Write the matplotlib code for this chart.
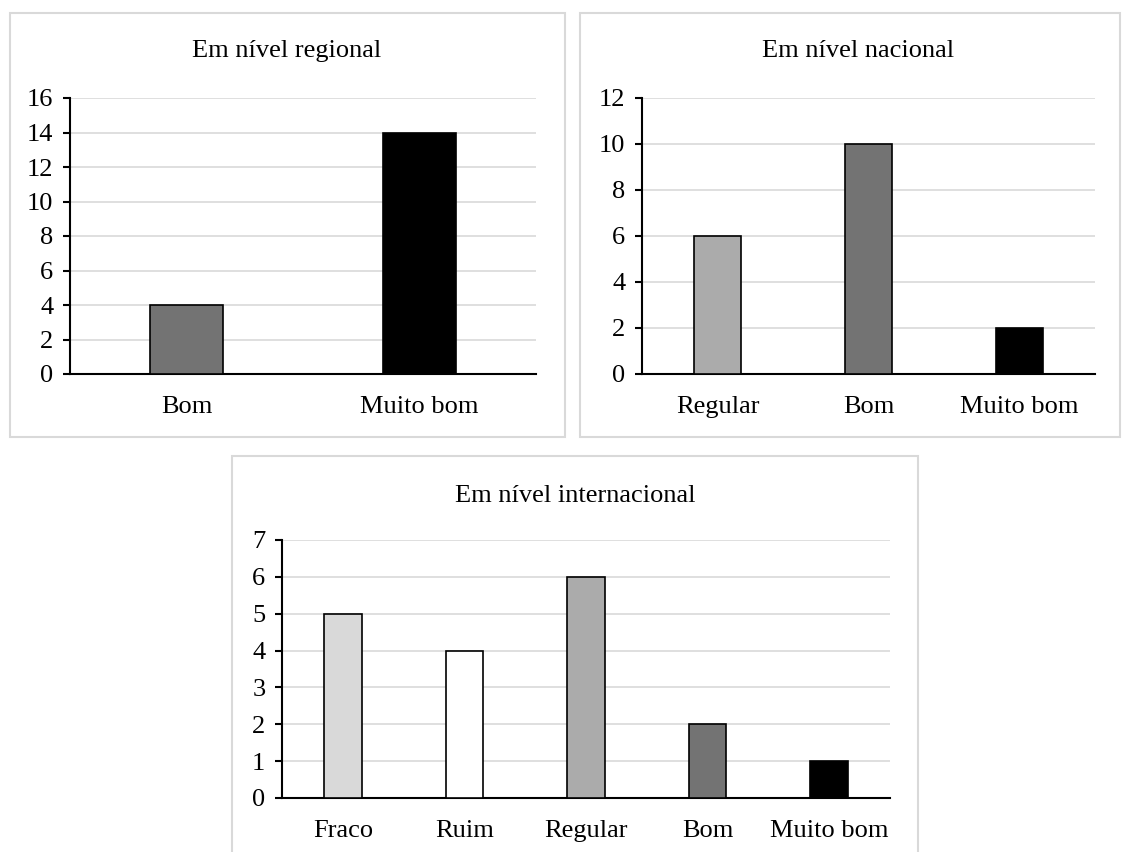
import matplotlib
matplotlib.use("Agg")
import matplotlib.pyplot as plt
from matplotlib.patches import Rectangle

plt.rcParams['font.family'] = ['Liberation Serif', 'DejaVu Serif']

# Data
reg_cats = ["Bom", "Muito bom"]
reg_vals = [4, 14]
nac_cats = ["Regular", "Bom", "Muito bom"]
nac_vals = [6, 10, 2]
int_cats = ["Fraco", "Ruim", "Regular", "Bom", "Muito bom"]
int_vals = [5, 4, 6, 2, 1]

color_map = {"Fraco": "#d9d9d9", "Ruim": "#ffffff", "Regular": "#ababab",
             "Bom": "#737373", "Muito bom": "#000000"}

W, H = 1131, 852
FS = 19
fig = plt.figure(figsize=(W / 100, H / 100), dpi=100)

def px_axes(l, t, r, b):
    return fig.add_axes([l / W, 1 - b / H, (r - l) / W, (b - t) / H])

def panel(l, t, r, b):
    fig.patches.append(Rectangle((l / W, 1 - b / H), (r - l) / W, (b - t) / H,
                                 transform=fig.transFigure, fill=False,
                                 edgecolor="#d9d9d9", linewidth=1.5))

def draw(ax, cats, vals, ymax, step, title, title_xy):
    x = list(range(len(cats)))
    ax.bar(x, vals, width=0.31, color=[color_map[c] for c in cats],
           edgecolor="black", linewidth=1.2, zorder=3)
    ax.set_xlim(-0.5, len(cats) - 0.5)
    ax.set_ylim(0, ymax)
    ax.set_yticks(list(range(0, ymax + 1, step)))
    ax.set_xticks(x)
    ax.set_xticklabels(cats)
    ax.yaxis.grid(True, color="#d9d9d9", linewidth=1.2, zorder=0)
    ax.set_axisbelow(True)
    for s in ["top", "right"]:
        ax.spines[s].set_visible(False)
    ax.spines["left"].set_linewidth(1.5)
    ax.spines["bottom"].set_linewidth(1.5)
    ax.tick_params(axis="y", length=5, width=1.5, labelsize=FS, pad=7)
    ax.tick_params(axis="x", length=0, labelsize=FS, pad=16)
    fig.text(title_xy[0] / W, 1 - title_xy[1] / H, title, ha="center",
             va="center", fontsize=FS)

panel(10, 13, 565, 437)
panel(580, 13, 1120, 437)
panel(232, 456, 918, 870)

ax1 = px_axes(70, 98, 536, 374)
draw(ax1, reg_cats, reg_vals, 16, 2, "Em nível regional", (287, 51))
ax2 = px_axes(642, 98, 1095, 374)
draw(ax2, nac_cats, nac_vals, 12, 2, "Em nível nacional", (858, 51))
ax3 = px_axes(282, 540, 890, 798)
draw(ax3, int_cats, int_vals, 7, 1, "Em nível internacional", (575, 496))

fig.savefig("out.png", dpi=100)
